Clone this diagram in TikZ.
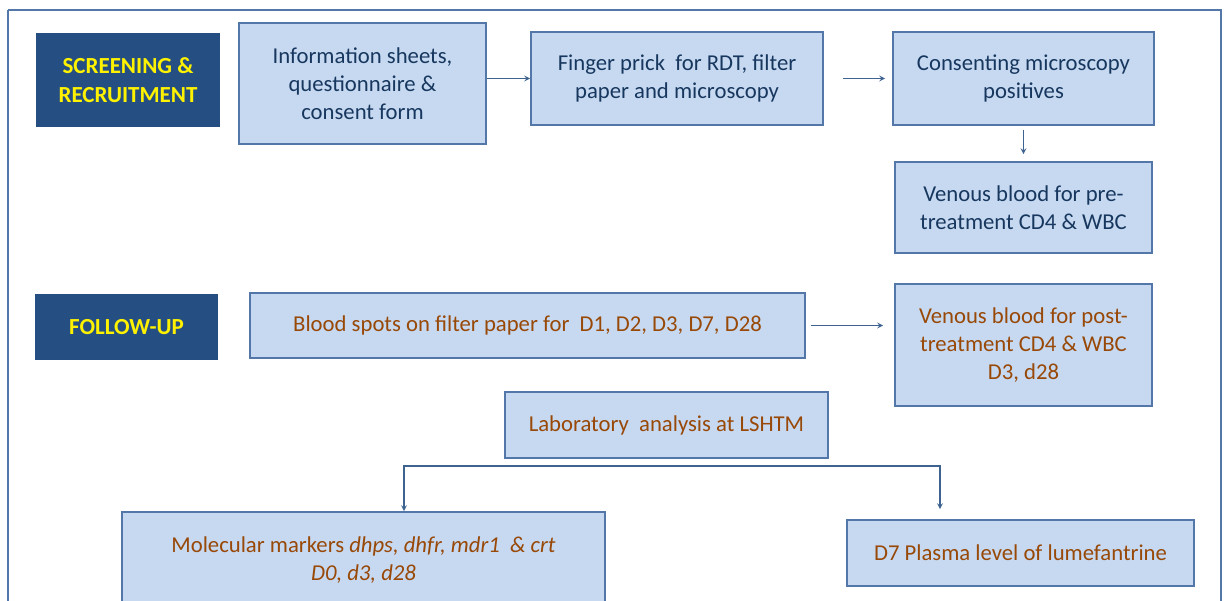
\documentclass[tikz,border=0pt]{standalone}
\usepackage{fontspec}
\setmainfont{Carlito}
\usetikzlibrary{positioning, arrows}
\definecolor{phaseblue}{HTML}{254F83}
\definecolor{boxfill}{HTML}{C6D9F1}
\definecolor{boxline}{HTML}{5277A8}
\definecolor{navytext}{HTML}{17375E}
\definecolor{browntext}{HTML}{984807}
\definecolor{arrowline}{HTML}{3F6390}

\tikzset{
  phase/.style={fill=phaseblue, text=yellow, align=center, inner sep=0pt,
    font=\fontsize{23}{29}\selectfont\bfseries},
  stepbox/.style={draw=boxline, line width=1.6pt, fill=boxfill, align=center,
    inner sep=0pt, text=navytext, font=\fontsize{22.7}{28}\selectfont},
  brownbox/.style={stepbox, text=browntext},
  flow/.style={draw=arrowline, line width=1.6pt, -stealth}
}

\begin{document}
\begin{tikzpicture}[x=1pt, y=-1pt, on grid]
		\useasboundingbox (0,0) rectangle (1229,600);
		% outer frame
		\draw[boxline, line width=2pt] (8,10) -- (1221,10) -- (1221,640) (8,10) -- (8,640);
		
		% screening and recruitment
		\node[phase, minimum width=184pt, minimum height=94pt] (screen) at (128,80) {SCREENING \&\\RECRUITMENT};
		\node[stepbox, minimum width=247pt, minimum height=121pt] (info) at (362.5,83.5) {Information sheets,\\questionnaire \&\\consent form};
		\node[stepbox, minimum width=292pt, minimum height=93pt] (finger) at (677,78.5) {Finger prick~ for RDT, filter\\paper and microscopy};
		\node[stepbox, minimum width=261pt, minimum height=93pt] (consent) at (1023.5,78.5) {Consenting microscopy\\positives};
		\node[stepbox, minimum width=257pt, minimum height=91pt] (venpre) [below=129pt of consent] {Venous blood for pre-\\treatment CD4 \& WBC};
		
		% follow-up
		\node[phase, minimum width=183pt, minimum height=66pt] (follow) at (126.5,327) {FOLLOW-UP};
		\node[brownbox, minimum width=555pt, minimum height=65pt] (spots) at (527.5,325.5) {Blood spots on filter paper for~ D1, D2, D3, D7, D28};
		\node[brownbox, minimum width=257pt, minimum height=122pt] (venpost) [below=137.5pt of venpre] {Venous blood for post-\\treatment CD4 \& WBC\\D3, d28};
		\node[brownbox, minimum width=323pt, minimum height=66pt] (lab) at (666.5,425) {Laboratory~ analysis at LSHTM};
		\node[brownbox, minimum width=483pt, minimum height=96pt] (molec) at (363.5,560) {Molecular markers \textit{dhps, dhfr, mdr1~ \& crt}\\\textit{D0, d3, d28}};
		\node[brownbox, minimum width=347pt, minimum height=66pt] (plasma) at (1020.5,553) {D7 Plasma level of lumefantrine};
		
		\coordinate (split_l) at (404,466);
		\coordinate (split_r) at (940,466);
		
		\draw[flow] (info.east |- finger) -- (finger.west);
		\draw[flow, shorten <=19pt, shorten >=7pt] (finger.east) -- (finger.east -| consent.west);
		\draw[flow, shorten <=4pt, shorten >=7pt] (consent.south -| venpre) -- (venpre.north);
		\draw[flow, shorten <=5pt, shorten >=11pt] (spots.east) -- (spots.east -| venpost.west);
		\draw[flow, stealth-stealth, shorten >=10pt] (split_l |- molec.north) -- (split_l) -- (split_r) -- (split_r |- plasma.north);
\end{tikzpicture}
\end{document}
